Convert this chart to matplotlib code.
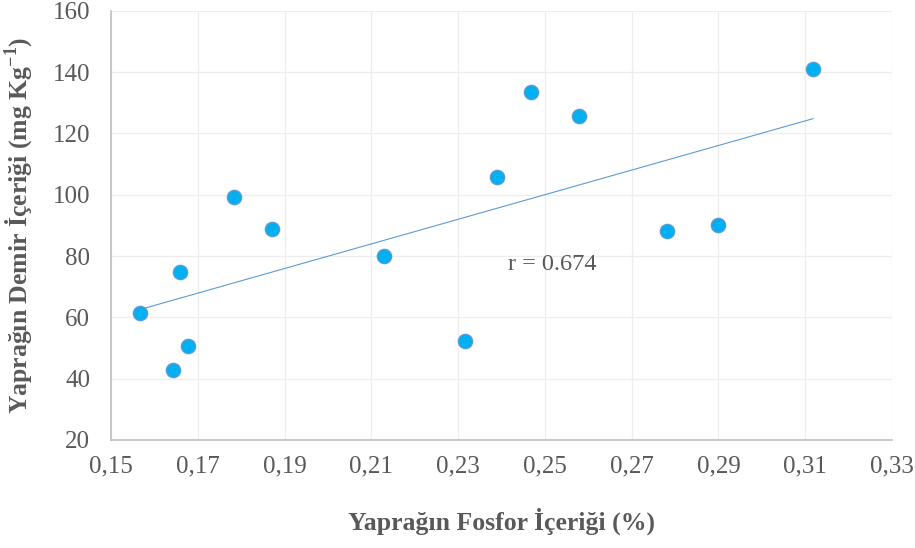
import matplotlib
matplotlib.use("Agg")
import matplotlib.pyplot as plt
import numpy as np
from matplotlib.ticker import FuncFormatter, FixedLocator

phosphorus = [0.1566, 0.1642, 0.1678, 0.1660, 0.1784, 0.1870, 0.2130, 0.2316,
              0.2389, 0.2468, 0.2579, 0.2781, 0.2900, 0.3118]
iron = [61.5, 42.9, 50.6, 74.8, 99.1, 88.7, 80.1, 52.4,
        105.9, 133.5, 125.8, 88.2, 90.2, 141.0]
xticks = [0.15, 0.17, 0.19, 0.21, 0.23, 0.25, 0.27, 0.29, 0.31, 0.33]
yticks = [20, 40, 60, 80, 100, 120, 140, 160]
r_label = "r = 0.674"
xlabel = "Yaprağın Fosfor İçeriği (%)"
ylabel = r"Yaprağın Demir İçeriği (mg Kg$^{\mathbf{-1}}$)"

plt.rcParams['font.family'] = ['Liberation Serif', 'DejaVu Serif']
plt.rcParams['mathtext.fontset'] = 'custom'
plt.rcParams['mathtext.rm'] = 'Liberation Serif'
plt.rcParams['mathtext.bf'] = 'Liberation Serif:bold'

fig = plt.figure(figsize=(9.15, 5.48), dpi=100)
ax = fig.add_axes([111/915, 1-440/548, (892-111)/915, (440-10.7)/548])

gray = '#595959'
ax.set_xlim(0.15, 0.33)
ax.set_ylim(20, 160)
ax.xaxis.set_major_locator(FixedLocator(xticks))
ax.yaxis.set_major_locator(FixedLocator(yticks))
ax.xaxis.set_major_formatter(FuncFormatter(lambda v, p: f"{v:.2f}".replace('.', ',')))
ax.grid(True, color='#EDEDED', lw=0.9, zorder=0)
ax.set_axisbelow(True)
for s in ['top', 'right']:
    ax.spines[s].set_visible(False)
for s in ['left', 'bottom']:
    ax.spines[s].set_color('#BFBFBF')
    ax.spines[s].set_linewidth(1.2)
ax.tick_params(length=0, labelsize=18, colors=gray)
ax.tick_params(axis='x', pad=11)
ax.tick_params(axis='y', pad=15)

x = np.array(phosphorus)
y = np.array(iron)
m, b = np.polyfit(x, y, 1)
xs = np.array([x.min(), x.max()])
ax.plot(xs, m*xs + b, color='#5B9BD5', lw=0.8, zorder=2)
ax.scatter(x, y, s=105, color='#00B0F0', edgecolor='#5B9BD5', linewidth=1.0, zorder=3)

ax.text(0.2414, 77.2, r_label, fontsize=17.5, color=gray, ha='left', va='center')
ax.set_xlabel(xlabel, fontsize=18.5, fontweight='bold', color=gray, labelpad=22)
ax.set_ylabel(ylabel, fontsize=18.5, fontweight='bold', color=gray, labelpad=12)

fig.savefig("out.png", dpi=100)
